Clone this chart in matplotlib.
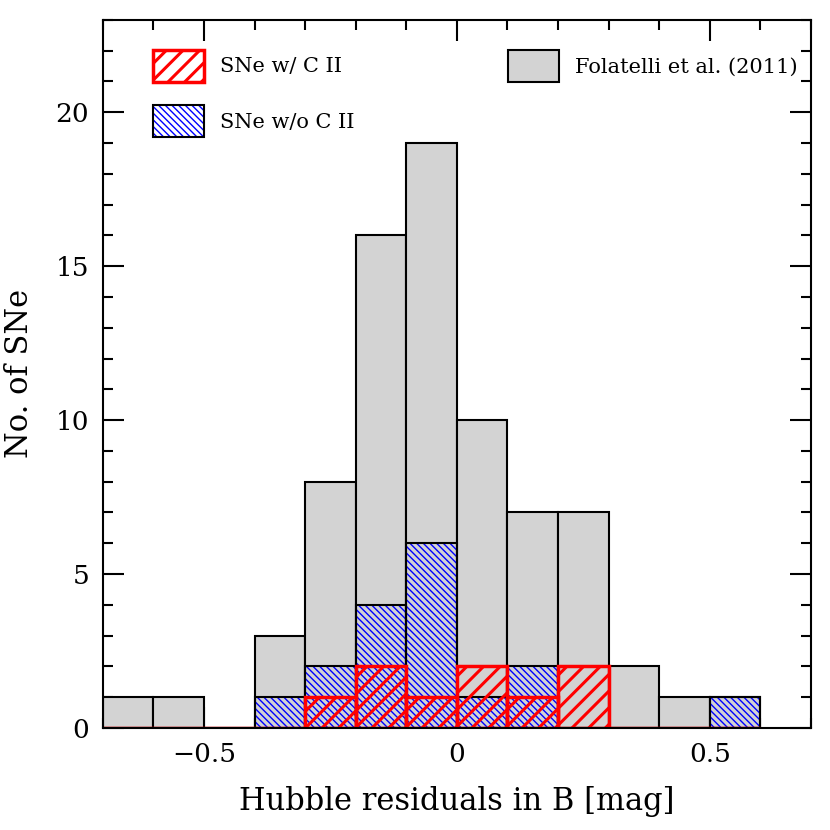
import matplotlib
matplotlib.use("Agg")
import matplotlib.pyplot as plt
from matplotlib.patches import Patch
from matplotlib.ticker import MultipleLocator

# ---------- data ----------
bin_left = [-0.7, -0.6, -0.5, -0.4, -0.3, -0.2, -0.1, 0.0, 0.1, 0.2, 0.3, 0.4, 0.5]
bin_width = 0.1
folatelli = [1, 1, 0, 3, 8, 16, 19, 10, 7, 7, 2, 1, 1]
no_cii = [0, 0, 0, 1, 2, 4, 6, 1, 2, 0, 0, 0, 1]
with_cii = [0, 0, 0, 0, 1, 2, 1, 2, 1, 2, 0, 0, 0]

label_with = "SNe w/ C II"
label_without = "SNe w/o C II"
label_fol = "Folatelli et al. (2011)"
# --------------------------

plt.rcParams['font.family'] = ['DejaVu Serif']
plt.rcParams['mathtext.fontset'] = 'dejavuserif'

fig = plt.figure(figsize=(8.3, 8.3), dpi=100)
ax = fig.add_axes([0.124, 0.123, 0.853, 0.853])

gray = "#d3d3d3"
blue_hatch = '\\' * 5
red_hatch = '//'
blue_hlw = 1.0
red_hlw = 2.2

ax.bar(bin_left, folatelli, width=bin_width, align='edge', color=gray,
       edgecolor='black', linewidth=1.5, zorder=2)

# blue hatch (hatch colour follows edgecolor), then black outline on top
plt.rcParams['hatch.linewidth'] = blue_hlw
ax.bar(bin_left, no_cii, width=bin_width, align='edge', color='none',
       edgecolor='blue', linewidth=0, hatch=blue_hatch, zorder=3)
ax.bar(bin_left, no_cii, width=bin_width, align='edge', color='none',
       edgecolor='black', linewidth=1.5, zorder=4)

plt.rcParams['hatch.linewidth'] = red_hlw
ax.bar(bin_left, with_cii, width=bin_width, align='edge', color='none',
       edgecolor='red', linewidth=2.5, hatch=red_hatch, zorder=5)

ax.set_xlim(-0.7, 0.7)
ax.set_ylim(0, 23)
ax.xaxis.set_major_locator(MultipleLocator(0.5))
ax.xaxis.set_minor_locator(MultipleLocator(0.1))
ax.yaxis.set_major_locator(MultipleLocator(5))
ax.yaxis.set_minor_locator(MultipleLocator(1))
ax.xaxis.set_major_formatter(plt.FuncFormatter(
    lambda v, p: "0" if abs(v) < 1e-9 else ("\u2212%g" % abs(v) if v < 0 else "%g" % v)))
ax.tick_params(which='both', direction='in', top=True, right=True, width=1.5, labelsize=19)
ax.tick_params(which='major', length=15, pad=10)
ax.tick_params(which='minor', length=7.5)
for s in ax.spines.values():
    s.set_linewidth(1.5)
    s.set_zorder(6)

ax.set_xlabel("Hubble residuals in B [mag]", fontsize=22, labelpad=14)
ax.set_ylabel("No. of SNe", fontsize=22, labelpad=15)

# legends: one per entry so each handle keeps its own hatch linewidth
leg_kw = dict(loc='upper left', frameon=False, fontsize=15, handlelength=2.45,
              handleheight=2.0, handletextpad=0.77, borderpad=0, borderaxespad=0)

plt.rcParams['hatch.linewidth'] = red_hlw
h_with = Patch(facecolor='none', edgecolor='red', linewidth=2.5, hatch=red_hatch)
leg_red = ax.legend([h_with], [label_with], bbox_to_anchor=(0.0706, 0.958), **leg_kw)
ax.add_artist(leg_red)

plt.rcParams['hatch.linewidth'] = blue_hlw
h_wo_hatch = Patch(facecolor='none', edgecolor='blue', linewidth=0, hatch=blue_hatch)
h_wo_edge = Patch(facecolor='none', edgecolor='black', linewidth=1.5)
leg_blue = ax.legend([(h_wo_hatch, h_wo_edge)], [label_without],
                     bbox_to_anchor=(0.0706, 0.8796), **leg_kw)
ax.add_artist(leg_blue)

h_fol = Patch(facecolor=gray, edgecolor='black', linewidth=1.5)
ax.legend([h_fol], [label_fol], bbox_to_anchor=(0.572, 0.958), **leg_kw)

fig.savefig("out.png", dpi=100)
